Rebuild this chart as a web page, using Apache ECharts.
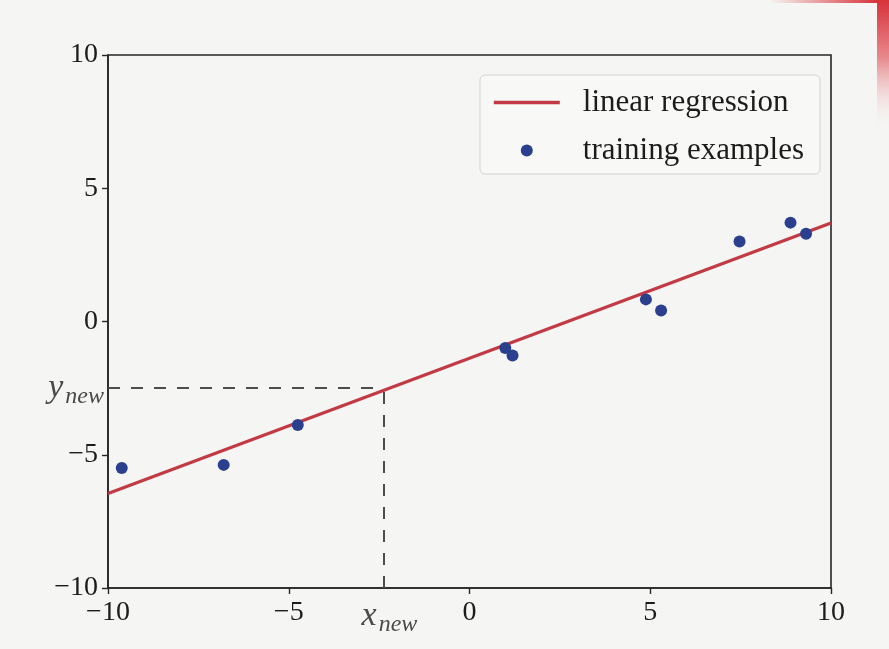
<!DOCTYPE html>
<html>
<head>
<meta charset="utf-8">
<script src="https://cdn.jsdelivr.net/npm/echarts@6/dist/echarts.min.js"></script>
<style>
  html, body { margin: 0; padding: 0; background: #f5f5f3; }
  #chart { width: 889px; height: 649px; }
</style>
</head>
<body>
<div id="chart"></div>
<script>
// Training examples (x, y)
const trainX = [-9.62, -6.80, -4.75, 0.99, 1.19, 4.88, 5.30, 7.47, 8.88, 9.31];
const trainY = [-5.50, -5.38, -3.88, -0.99, -1.28, 0.83, 0.41, 3.00, 3.71, 3.29];

// Fitted regression line, endpoints across the x range
const lineX = [-10, 10];
const lineY = [-6.45, 3.70];

// Query point and its prediction
const xNew = -2.38;
const yNew = -2.48;

// Axis ticks
const xTicks = [-10, -5, 0, 5, 10];
const yTicks = [-10, -5, 0, 5, 10];

const serif = '"Liberation Serif", "DejaVu Serif", serif';
const ink = '#1c1c1c';
const red = '#c23a44';

const scatterData = trainX.map((x, i) => [x, trainY[i]]);
const lineData = lineX.map((x, i) => [x, lineY[i]]);

const minus = v => String(v).replace('-', '\u2212');

const subRich = {
  v: { fontFamily: serif, fontStyle: 'italic', fontSize: 34, color: '#4a4a4a' },
  s: { fontFamily: serif, fontStyle: 'italic', fontSize: 24, color: '#4a4a4a', padding: [18, 0, 0, 2] }
};

const chart = echarts.init(document.getElementById('chart'), null, { renderer: 'canvas' });

chart.setOption({
  backgroundColor: '#f5f5f3',
  animation: false,
  grid: {
    left: 108, top: 55, right: 58, bottom: 61,
    show: true, borderColor: '#262626', borderWidth: 1.6,
    backgroundColor: 'transparent'
  },
  // torn page corner with the red cover peeking through
  graphic: [
    {
      type: 'rect', silent: true, z: -1,
      shape: { x: 877, y: 0, width: 12, height: 130 },
      style: {
        fill: new echarts.graphic.LinearGradient(0, 0, 0, 1, [
          { offset: 0, color: '#d8323a' },
          { offset: 0.45, color: '#e88a8e' },
          { offset: 1, color: 'rgba(245,245,243,0)' }
        ])
      }
    },
    {
      type: 'rect', silent: true, z: -1,
      shape: { x: 770, y: 0, width: 107, height: 3 },
      style: {
        fill: new echarts.graphic.LinearGradient(0, 0, 1, 0, [
          { offset: 0, color: 'rgba(216,50,58,0)' },
          { offset: 1, color: '#d8323a' }
        ])
      }
    }
  ],
  legend: {
    orient: 'vertical',
    left: 480, top: 75,
    padding: [12, 16, 8, 12],
    itemWidth: 66, itemHeight: 12, itemGap: 17,
    backgroundColor: 'rgba(248,248,246,0.9)',
    borderColor: '#d2d2d2', borderWidth: 1, borderRadius: 5,
    textStyle: { fontFamily: serif, fontSize: 31, color: ink, padding: [0, 0, 0, 18] },
    data: [
      { name: 'linear regression', itemStyle: { opacity: 0 }, lineStyle: { color: red, width: 3.6 } },
      { name: 'training examples', icon: 'circle' }
    ]
  },
  xAxis: [
    {
      type: 'value', min: -10, max: 10, interval: 5,
      splitLine: { show: false },
      axisLine: { onZero: false, lineStyle: { color: '#262626', width: 1.6 } },
      axisTick: { inside: false, length: 6, lineStyle: { color: '#262626', width: 1.4 } },
      axisLabel: {
        margin: 11, fontFamily: serif, fontSize: 28, color: ink,
        formatter: minus, customValues: xTicks
      }
    },
    {
      type: 'value', min: -10, max: 10, position: 'bottom',
      splitLine: { show: false },
      axisLine: { show: false },
      axisTick: { show: false },
      axisLabel: {
        customValues: [xNew], margin: 7,
        padding: [0, 0, 0, 12],
        formatter: () => '{v|x}{s|new}',
        rich: subRich
      }
    }
  ],
  yAxis: [
    {
      type: 'value', min: -10, max: 10, interval: 5,
      splitLine: { show: false },
      axisLine: { onZero: false, lineStyle: { color: '#262626', width: 1.6 } },
      axisTick: { inside: false, length: 6, lineStyle: { color: '#262626', width: 1.4 } },
      axisLabel: {
        margin: 10, fontFamily: serif, fontSize: 28, color: ink,
        formatter: minus, customValues: yTicks
      }
    },
    {
      type: 'value', min: -10, max: 10, position: 'left',
      splitLine: { show: false },
      axisLine: { show: false },
      axisTick: { show: false },
      axisLabel: {
        customValues: [yNew], margin: 4,
        formatter: () => '{v|y}{s|new}',
        rich: subRich
      }
    }
  ],
  series: [
    {
      name: 'linear regression',
      type: 'line',
      data: lineData,
      symbol: 'none',
      lineStyle: { color: red, width: 3.2 },
      itemStyle: { color: red },
      z: 3,
      markLine: {
        silent: true,
        symbol: 'none',
        label: { show: false },
        lineStyle: { color: '#4d4d4d', width: 2, type: [12, 11] },
        data: [
          [{ coord: [-10, yNew] }, { coord: [xNew, yNew] }],
          [{ coord: [xNew, -10] }, { coord: [xNew, yNew] }]
        ]
      }
    },
    {
      name: 'training examples',
      type: 'scatter',
      data: scatterData,
      symbol: 'circle',
      symbolSize: 12,
      itemStyle: { color: '#2a3f8e', opacity: 1 },
      z: 4
    }
  ]
});
</script>
</body>
</html>
